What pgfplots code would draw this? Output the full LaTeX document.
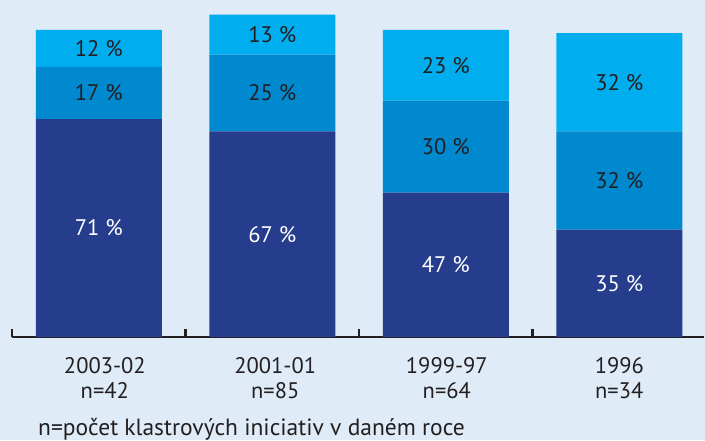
\documentclass[border=0pt]{standalone}
\usepackage{pgfplots}
\pgfplotsset{compat=1.18}
\usepackage{fontspec}
\setmainfont{PT Sans}
\definecolor{bg}{HTML}{DFEBF7}
\definecolor{cdark}{HTML}{253D8C}
\definecolor{cmid}{HTML}{0089CF}
\definecolor{clight}{HTML}{00AEEF}
\definecolor{txt}{HTML}{231F20}
\newcommand{\lbl}{\fontsize{22.5}{25}\selectfont}
\newcommand{\foot}{\fontsize{23.5}{27}\selectfont}
\pgfplotsset{base/.style={
  at={(12pt,103pt)}, anchor=south west, scale only axis,
  width=692.3pt, height=337pt,
  xmin=-0.5, xmax=3.49, ymin=0, ymax=109.77,
  clip=false}}
\begin{document}
\begin{tikzpicture}
\path[use as bounding box, fill=bg] (0,0) rectangle (705pt,440pt);
\begin{axis}[base, ybar stacked, bar width=126pt,
  axis y line=none, axis x line*=bottom,
  x axis line style={line width=2.2pt, draw=txt},
  xtick={0.035,1.017,2.006,3},
  xticklabels={{2003-02\\n=42},{2001-01\\n=85},{1999-97\\n=64},{1996\\n=34}},
  major x tick style={draw=none},
  minor xtick={-0.5,0.5,1.5,2.5}, minor tick length=8pt, tick align=inside,
  minor x tick style={line width=2.2pt, draw=txt},
  xticklabel style={font=\lbl, align=center, text=txt, yshift=-17pt},
]
\addplot[fill=cdark, draw=none] coordinates {(0,71) (1,67) (2,47) (3,35)};
\addplot[fill=cmid, draw=none] coordinates {(0,17) (1,25) (2,30) (3,32)};
\addplot[fill=clight, draw=none] coordinates {(0,12) (1,13) (2,23) (3,32)};
\end{axis}
\begin{axis}[base, hide axis]
\addplot[draw=none, mark=none, nodes near coords, point meta=explicit symbolic,
  every node near coord/.style={anchor=center, font=\lbl, text=white}]
  coordinates {(0,35.5)[71~\%] (1,33.5)[67~\%] (2,23.5)[47~\%] (3,17.5)[35~\%]};
\addplot[draw=none, mark=none, nodes near coords, point meta=explicit symbolic,
  every node near coord/.style={anchor=center, font=\lbl, text=txt}]
  coordinates {(0,79.5)[17~\%] (1,79.5)[25~\%] (2,62)[30~\%] (3,51)[32~\%]
               (0,94)[12~\%] (1,98.5)[13~\%] (2,88.5)[23~\%] (3,83)[32~\%]};
\end{axis}
\node[anchor=base west, font=\foot, text=txt, inner sep=0pt] at (38pt,5pt) {n=počet klastrových iniciativ v daném roce};
\end{tikzpicture}
\end{document}
